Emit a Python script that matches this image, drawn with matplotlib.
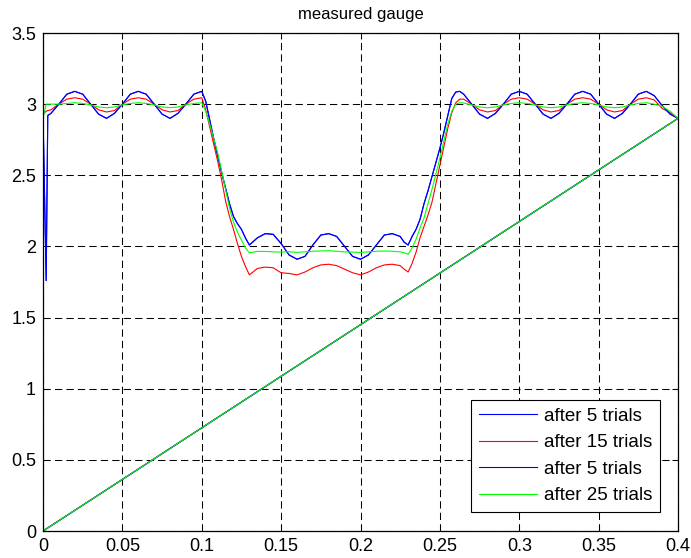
import matplotlib
matplotlib.use("Agg")
import matplotlib.pyplot as plt

plt.rcParams['font.family'] = ['Liberation Sans', 'DejaVu Sans']

# ---- data ----
x = [
    # first high region
    0, 0.002, 0.003, 0.005, 0.01, 0.015, 0.02, 0.025, 0.03, 0.035, 0.04,
    0.045, 0.05, 0.055, 0.06, 0.065, 0.07, 0.075, 0.08, 0.085, 0.09, 0.095,
    # falling edge
    0.1, 0.1025, 0.105, 0.1075, 0.11, 0.1125, 0.115, 0.1175, 0.12, 0.1225,
    0.125, 0.1275,
    # low region
    0.13, 0.135, 0.14, 0.145, 0.15, 0.155, 0.16, 0.165, 0.17, 0.175, 0.18,
    0.185, 0.19, 0.195, 0.2, 0.205, 0.21, 0.215, 0.22, 0.225, 0.2275,
    # rising edge
    0.23, 0.2325, 0.235, 0.2375, 0.24, 0.2425, 0.245, 0.2475, 0.25, 0.2525,
    0.255, 0.2575, 0.26, 0.2625,
    # second high region
    0.265, 0.27, 0.275, 0.28, 0.285, 0.29, 0.295, 0.3, 0.305, 0.31, 0.315,
    0.32, 0.325, 0.33, 0.335, 0.34, 0.345, 0.35, 0.355, 0.36, 0.365, 0.37,
    0.375, 0.38, 0.385, 0.39, 0.395, 0.4,
    # wrap back to origin
    0,
]

after5 = [
    2.93, 1.76, 2.92, 2.935, 3.00, 3.07, 3.09, 3.07, 3.00, 2.93, 2.90,
    2.935, 3.00, 3.07, 3.09, 3.07, 3.00, 2.93, 2.90, 2.935, 3.00, 3.07,
    3.09, 3.02, 2.89, 2.76, 2.64, 2.52, 2.41, 2.30, 2.21, 2.16, 2.12, 2.06,
    2.01, 2.06, 2.09, 2.085, 2.02, 1.94, 1.91, 1.93, 2.01, 2.08, 2.09,
    2.07, 2.00, 1.93, 1.91, 1.94, 2.01, 2.08, 2.09, 2.07, 2.03,
    2.01, 2.07, 2.12, 2.19, 2.30, 2.39, 2.49, 2.59, 2.69, 2.80, 2.92, 3.04,
    3.085, 3.09,
    3.07, 3.00, 2.93, 2.90, 2.935, 3.00, 3.07, 3.09, 3.07, 3.00, 2.93,
    2.90, 2.935, 3.00, 3.07, 3.09, 3.07, 3.00, 2.93, 2.90, 2.935, 3.00,
    3.07, 3.09, 3.06, 2.99, 2.93, 2.90,
    0,
]

after15 = [
    2.93, 2.95, 2.955, 2.96, 3.00, 3.035, 3.045, 3.035, 3.00, 2.96, 2.945,
    2.955, 3.00, 3.035, 3.045, 3.035, 3.00, 2.96, 2.945, 2.955, 3.00, 3.035,
    3.045, 2.96, 2.84, 2.72, 2.60, 2.47, 2.32, 2.21, 2.12, 2.02, 1.93, 1.86,
    1.80, 1.845, 1.855, 1.85, 1.815, 1.81, 1.80, 1.82, 1.85, 1.87, 1.875,
    1.865, 1.84, 1.815, 1.80, 1.82, 1.85, 1.87, 1.875, 1.865, 1.84,
    1.82, 1.88, 1.96, 2.06, 2.14, 2.22, 2.31, 2.44, 2.57, 2.70, 2.83, 2.94,
    3.01, 3.035,
    3.035, 3.00, 2.96, 2.945, 2.955, 3.00, 3.035, 3.045, 3.035, 3.00, 2.96,
    2.945, 2.955, 3.00, 3.035, 3.045, 3.035, 3.00, 2.96, 2.945, 2.955, 3.00,
    3.035, 3.045, 3.03, 2.97, 2.94, 2.90,
    0,
]

after25 = [
    2.90, 3.00, 3.00, 3.00, 3.00, 3.005, 3.01, 3.005, 2.995, 2.98, 2.975,
    2.98, 2.995, 3.005, 3.01, 3.005, 2.995, 2.98, 2.975, 2.98, 2.995, 3.005,
    3.01, 2.95, 2.86, 2.76, 2.66, 2.53, 2.40, 2.27, 2.17, 2.10, 2.045, 1.99,
    1.955, 1.965, 1.965, 1.962, 1.96, 1.963, 1.958, 1.962, 1.966, 1.968,
    1.97, 1.966, 1.962, 1.96, 1.958, 1.962, 1.966, 1.968, 1.966, 1.962,
    1.955,
    1.945, 1.99, 2.05, 2.13, 2.20, 2.30, 2.40, 2.51, 2.62, 2.74, 2.86, 2.95,
    3.00, 3.01,
    3.008, 2.995, 2.98, 2.975, 2.98, 2.995, 3.005, 3.01, 3.005, 2.995, 2.98,
    2.975, 2.98, 2.995, 3.005, 3.01, 3.005, 2.995, 2.98, 2.975, 2.98, 2.995,
    3.005, 3.01, 3.0, 2.985, 2.95, 2.90,
    0,
]

labels = ["after 5 trials", "after 15 trials", "after 5 trials", "after 25 trials"]
x_ticks = [0, 0.05, 0.1, 0.15, 0.2, 0.25, 0.3, 0.35, 0.4]
x_tick_labels = ["0", "0.05", "0.1", "0.15", "0.2", "0.25", "0.3", "0.35", "0.4"]
y_ticks = [0, 0.5, 1, 1.5, 2, 2.5, 3, 3.5]
y_tick_labels = ["0", "0.5", "1", "1.5", "2", "2.5", "3", "3.5"]
title = "measured gauge"

# ---- figure ----
fig = plt.figure(figsize=(6.91, 5.58), dpi=100)
ax = fig.add_axes([43 / 691, 1 - 531 / 558, (678 - 43) / 691, (531 - 33) / 558])

series = [after5, after15, after5, after25]
colors = ["#0000ff", "#ff0000", "#0000ff", "#00ff00"]
for y, c, lab in zip(series, colors, labels):
    ax.plot(x, y, color=c, lw=0.8, label=lab)

ax.set_xlim(0, 0.4)
ax.set_ylim(0, 3.5)
ax.set_xticks(x_ticks)
ax.set_xticklabels(x_tick_labels)
ax.set_yticks(y_ticks)
ax.set_yticklabels(y_tick_labels)
ax.tick_params(direction="in", top=True, right=True, length=4, width=0.75,
               labelsize=13, pad=5)
ax.grid(True, color="black", linestyle=(0, (7, 4)), linewidth=0.75)
for s in ax.spines.values():
    s.set_linewidth(0.9)
ax.set_title(title, fontsize=12, pad=10)

leg = ax.legend(loc="lower right", bbox_to_anchor=(0.972, 0.038),
                borderaxespad=0, fancybox=False, framealpha=1,
                edgecolor="black", fontsize=13.5, handlelength=3.1,
                handletextpad=0.37, labelspacing=0.5, borderpad=0.42)
leg.get_frame().set_linewidth(0.8)

fig.savefig("out.png", dpi=100)
